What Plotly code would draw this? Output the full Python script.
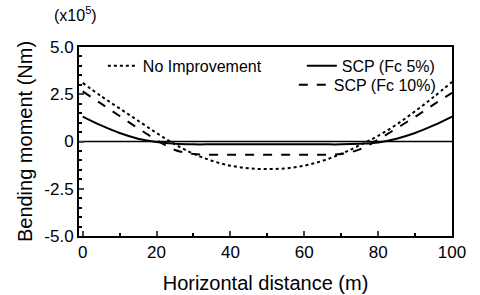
import plotly.graph_objects as go

x_m = [0, 5, 10, 15, 20, 25, 30, 35, 40, 45, 50, 55, 60, 65, 70, 75, 80, 85, 90, 95, 100]
no_improvement = [3.1, 2.4, 1.75, 1.1, 0.45, -0.15, -0.65, -1.02, -1.28, -1.42, -1.46, -1.42, -1.28, -1.02, -0.65, -0.2, 0.3, 0.9, 1.6, 2.35, 3.15]
scp_fc5 = [1.32, 0.85, 0.45, 0.15, -0.03, -0.12, -0.15, -0.15, -0.15, -0.15, -0.15, -0.15, -0.15, -0.15, -0.15, -0.12, -0.05, 0.15, 0.45, 0.85, 1.32]
scp_fc10 = [2.65, 2.0, 1.35, 0.7, 0.08, -0.45, -0.66, -0.7, -0.7, -0.7, -0.7, -0.7, -0.7, -0.7, -0.66, -0.42, 0.1, 0.7, 1.3, 1.95, 2.58]
y_ticks = [-5.0, -2.5, 0, 2.5, 5.0]
y_tick_labels = ["-5.0", "-2.5", "0", "2.5", "5.0"]
x_ticks = [0, 20, 40, 60, 80, 100]

FONT = "Liberation Sans, Arial, sans-serif"

fig = go.Figure()
fig.add_trace(go.Scatter(x=[-1, 100], y=[0, 0], mode="lines", line=dict(color="black", width=1.5),
                         showlegend=False, hoverinfo="skip"))
fig.add_trace(go.Scatter(x=x_m, y=no_improvement, mode="lines", name="No Improvement",
                         line=dict(color="black", width=2, dash="dot", shape="spline"), legend="legend"))
fig.add_trace(go.Scatter(x=x_m, y=scp_fc5, mode="lines", name="SCP (Fc 5%)",
                         line=dict(color="black", width=2, shape="spline"), legend="legend2"))
fig.add_trace(go.Scatter(x=x_m, y=scp_fc10, mode="lines", name="SCP (Fc 10%)",
                         line=dict(color="black", width=2, dash="dash", shape="spline"), legend="legend3"))

legend_common = dict(bgcolor="rgba(0,0,0,0)", font=dict(family=FONT, size=16, color="black"),
                     itemwidth=30, tracegroupgap=0)
fig.update_layout(
    width=480, height=295,
    margin=dict(l=79, r=28, t=47, b=59, autoexpand=False),
    paper_bgcolor="white", plot_bgcolor="white",
    font=dict(family=FONT, size=16, color="black"),
    legend=dict(x=0.064, y=0.99, xanchor="left", yanchor="top", **legend_common),
    legend2=dict(x=0.97, y=0.99, xanchor="right", yanchor="top", **legend_common),
    legend3=dict(x=0.97, y=0.89, xanchor="right", yanchor="top", **legend_common),
    xaxis=dict(range=[-1, 100], tickvals=x_ticks, ticks="inside", ticklen=5, tickwidth=1.5,
               showline=True, linecolor="black", linewidth=2, mirror=True, showgrid=False, zeroline=False,
               tickfont=dict(size=17), automargin=False,
               minor=dict(dtick=10, ticks="inside", ticklen=3, tickcolor="black"),
               title=dict(text="Horizontal distance (m)", font=dict(size=20), standoff=15)),
    yaxis=dict(range=[-5, 5], tickvals=y_ticks, ticktext=y_tick_labels, ticks="inside", ticklen=5, tickwidth=1.5,
               showline=True, linecolor="black", linewidth=2, mirror=True, showgrid=False, zeroline=False,
               tickfont=dict(size=17), automargin=False,
               minor=dict(dtick=0.5, ticks="inside", ticklen=3, tickcolor="black"),
               title=dict(text="Bending moment (Nm)", font=dict(size=20), standoff=6)),
    annotations=[dict(text="(x10<sup>5</sup>)", xref="paper", yref="paper", x=-0.01, y=1.11,
                      xanchor="center", yanchor="bottom", showarrow=False, font=dict(size=16))],
)
fig.write_html("out.html", config={"displayModeBar": False},
               post_script="document.body.style.margin='0';")
